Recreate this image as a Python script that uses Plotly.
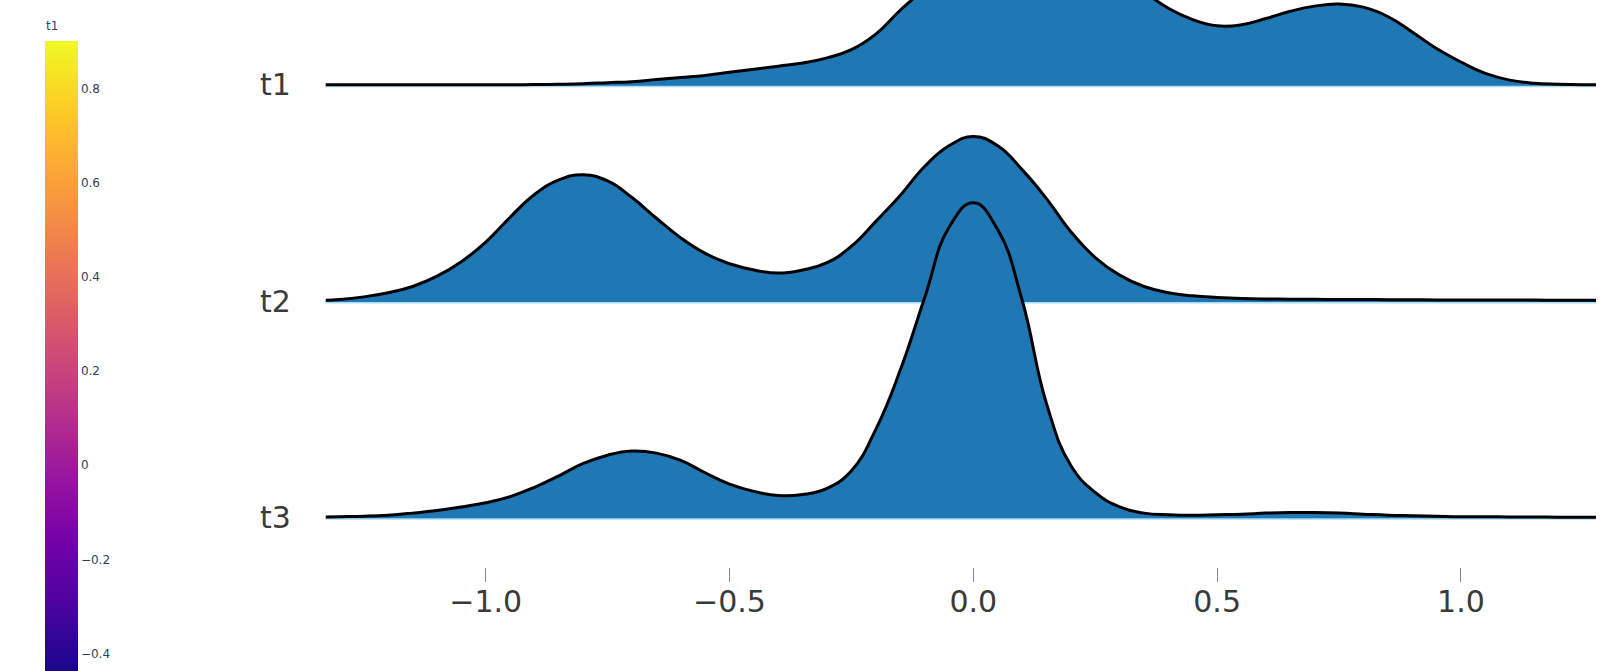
import plotly.graph_objects as go

# ---------------- data ----------------
categories = ["t1", "t2", "t3"]

grid_x = [-1.35, -1.30, -1.25, -1.20, -1.15, -1.10, -1.05, -1.00, -0.95, -0.90,
          -0.85, -0.80, -0.75, -0.70, -0.65, -0.60, -0.55, -0.50, -0.45, -0.40,
          -0.35, -0.30, -0.25, -0.20, -0.15, -0.10, -0.05, 0.00, 0.05, 0.10,
          0.15, 0.20, 0.25, 0.30, 0.35, 0.40, 0.45, 0.50, 0.55, 0.60,
          0.65, 0.70, 0.75, 0.80, 0.85, 0.90, 0.95, 1.00, 1.05, 1.10,
          1.15, 1.20, 1.25, 1.30]

# ridge heights (relative density values)
t1_density = [0, 0, 0, 0, 0, 0, 0, 0, 0, 0.2,
              0.5, 1, 2, 3, 5, 7, 9, 12, 15, 18,
              21, 26, 34, 49, 72, 93, 115, 132, 142, 146,
              145, 138, 125, 108, 90, 74, 63, 57, 58, 64,
              71, 76, 78, 75, 66, 51, 35, 22, 11, 4.5,
              1.5, 0.5, 0, 0]
t2_density = [0.5, 1.5, 4, 8, 14, 24, 38, 57, 81, 103,
              117, 122, 116, 100, 80, 61, 46, 36, 30, 27,
              30, 37, 53, 77, 102, 130, 150, 159, 150, 127,
              99, 67, 42, 25, 14, 8, 5, 3.5, 2.5, 2,
              1.8, 1.6, 1.5, 1.4, 1.3, 1.2, 1.1, 1.0, 1.0, 0.9,
              0.9, 0.8, 0.8, 0.8]
t3_density = [0, 0.5, 1, 2, 4, 6.5, 10, 14, 20, 29,
              40, 52, 60, 64, 62, 55, 43, 32, 25, 21,
              22, 28, 45, 85, 142, 212, 280, 304, 278, 210,
              110, 50, 24, 10, 4, 2.5, 2, 2.5, 3, 4,
              4.5, 4.5, 4, 3, 2, 1.5, 1, 0.5, 0.5, 0.3,
              0.2, 0.1, 0, 0]

series_h = [t1_density, t2_density, t3_density]
offsets = [2, 1, 0]
ridge_scale = 1 / 209.0

x_ticks = [-1.0, -0.5, 0.0, 0.5, 1.0]
x_ticktext = ["\u22121.0", "\u22120.5", "0.0", "0.5", "1.0"]

cbar_min, cbar_max = -0.47, 0.901
cbar_title = "t1"

# ---------------- figure ----------------
fig = go.Figure()
FILL = "#1f77b4"
for name, hs, off in zip(categories, series_h, offsets):
    fig.add_trace(go.Scatter(
        x=[grid_x[0], grid_x[-1]], y=[off - 0.008, off - 0.008], mode="lines",
        line=dict(color="#a9dcf5", width=1.6), hoverinfo="skip", showlegend=False))
    fig.add_trace(go.Scatter(
        x=grid_x, y=[off + h * ridge_scale for h in hs], mode="lines", name=name,
        line=dict(color="black", width=3, shape="spline", smoothing=1.3),
        fill="tonexty", fillcolor=FILL, showlegend=False))

# colorbar carrier
fig.add_trace(go.Scatter(
    x=[None, None], y=[None, None], mode="markers", showlegend=False,
    marker=dict(color=[cbar_min, cbar_max], cmin=cbar_min, cmax=cbar_max,
                colorscale="Plasma", showscale=True,
                colorbar=dict(
                    thickness=33, thicknessmode="pixels",
                    len=645, lenmode="pixels",
                    x=45 / 1622, xanchor="left", xpad=0,
                    y=1 - 41.4 / 671, yanchor="top", ypad=0,
                    outlinewidth=0, tick0=0, dtick=0.2,
                    tickfont=dict(size=12, color="#2a3f5f")))))

fig.add_annotation(text=cbar_title, xref="paper", yref="paper",
                   x=44 / 1622, xanchor="left", y=1 - 26 / 671, yanchor="middle",
                   showarrow=False, font=dict(size=12, color="#2a3f5f"))

fig.update_layout(
    width=1622, height=671,
    margin=dict(l=0, r=0, t=0, b=0),
    paper_bgcolor="white", plot_bgcolor="white",
    font=dict(family="DejaVu Sans"),
    xaxis=dict(domain=[325.8 / 1622, 1596 / 1622], range=[-1.328, 1.277],
               showgrid=False, zeroline=False, showline=False,
               tickvals=x_ticks, ticktext=x_ticktext,
               ticks="outside", ticklen=14, tickcolor="#888", tickwidth=1,
               ticklabelstandoff=-6,
               tickfont=dict(size=30, color="#3a3a3a", family="DejaVu Sans")),
    yaxis=dict(domain=[(671 - 567) / 671, 1.0], range=[-0.230, 2.392],
               showgrid=False, zeroline=False, showline=False,
               tickvals=offsets, ticktext=categories, ticks="",
               ticklabelstandoff=34,
               tickfont=dict(size=30, color="#3a3a3a", family="DejaVu Sans")),
)

fig.write_html("out.html", config={"displayModeBar": False},
               post_script="document.body.style.margin='0';")
